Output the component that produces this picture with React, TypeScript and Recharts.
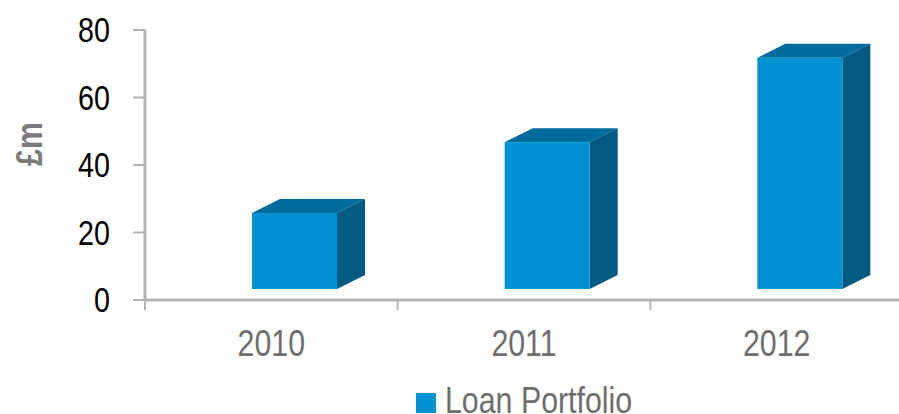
import React from 'react';
import { BarChart, Bar, XAxis, YAxis, Legend, Label } from 'recharts';

const years = ['2010', '2011', '2012'];
const loanPortfolio = [22.5, 43.5, 68.5];
const yTicks = [0, 20, 40, 60, 80];
const seriesName = 'Loan Portfolio';

// no Arial Narrow here, so squeeze Liberation Sans horizontally
const FONT = "'Liberation Sans', Arial, sans-serif";
const NARROW = 0.82;
const FRONT = '#0091d2';
const TOP = '#006c9d';
const SIDE = '#005a82';
const AXIS = '#b3b3b3';
const GREY_TEXT = '#6e6e6e';

// 3D look
const DEPTH_X = 28;
const DEPTH_Y = 14;
const SHIFT = 23;
const LIFT = 11;

const CHART_W = 1048;
const CHART_H = 414;
const MARGIN = { top: 30, right: 145, bottom: 0, left: 0 };
const Y_AXIS_W = 145;
const BAND = (CHART_W - MARGIN.left - MARGIN.right - Y_AXIS_W) / years.length;

const data = years.map((year, i) => ({ year, loan: loanPortfolio[i] }));

const NarrowText = ({ x, y, rotate = 0, children, ...rest }: any) => (
  <text transform={`translate(${x},${y}) rotate(${rotate}) scale(${NARROW},1)`} fontFamily={FONT} {...rest}>
    {children}
  </text>
);

const Bar3D = (props: any) => {
  const { x, y, width, height } = props;
  const fx = x + SHIFT;
  const top = y - LIFT;
  const bottom = y + height - LIFT;
  const r = fx + width;
  return (
    <g>
      <polygon
        points={`${fx},${top} ${fx + DEPTH_X},${top - DEPTH_Y} ${r + DEPTH_X},${top - DEPTH_Y} ${r},${top}`}
        fill={TOP}
      />
      <polygon
        points={`${r},${top} ${r + DEPTH_X},${top - DEPTH_Y} ${r + DEPTH_X},${bottom - DEPTH_Y} ${r},${bottom}`}
        fill={SIDE}
      />
      <rect x={fx} y={top} width={width} height={bottom - top} fill={FRONT} />
    </g>
  );
};

const XTick = (props: any) => {
  const { x, y, payload, index } = props;
  const axisY = y - 30;
  return (
    <g>
      <line x1={x - BAND / 2} y1={axisY} x2={x - BAND / 2} y2={axisY + 10} stroke={AXIS} strokeWidth={2} />
      {index === years.length - 1 && (
        <line x1={x + BAND / 2} y1={axisY} x2={x + BAND / 2} y2={axisY + 10} stroke={AXIS} strokeWidth={2} />
      )}
      <NarrowText x={x} y={y} dy="0.71em" textAnchor="middle" fill={GREY_TEXT} fontSize={37}>
        {payload.value}
      </NarrowText>
    </g>
  );
};

const YTick = (props: any) => {
  const { x, y, payload } = props;
  return (
    <NarrowText x={x} y={y} dy="0.355em" textAnchor="end" fill="#000" fontSize={35}>
      {payload.value}
    </NarrowText>
  );
};

const YLabel = (props: any) => {
  const vb = props.viewBox || { x: 0, y: 30, width: 145, height: 270 };
  const cx = vb.x + 29;
  const cy = vb.y + vb.height / 2 - 21;
  return (
    <NarrowText
      x={cx}
      y={cy}
      rotate={-90}
      textAnchor="middle"
      dominantBaseline="central"
      fill="#7b7b7b"
      fontSize={37}
      fontWeight="bold"
    >
      £m
    </NarrowText>
  );
};

const LegendContent = () => (
  <div style={{ height: 45, paddingLeft: Y_AXIS_W, textAlign: 'center' }}>
    <svg width={216} height={45} style={{ display: 'inline-block', overflow: 'visible' }}>
      <rect x={0} y={24} width={20} height={20} fill={FRONT} />
      <NarrowText x={29} y={44} fill={GREY_TEXT} fontSize={37}>
        {seriesName}
      </NarrowText>
    </svg>
  </div>
);

export default function App() {
  return (
    <div style={{ position: 'absolute', left: 0, top: 0, width: 899, height: 414, overflow: 'hidden', background: '#fff' }}>
      <BarChart width={CHART_W} height={CHART_H} data={data} margin={MARGIN} barSize={85}>
        <XAxis
          dataKey="year"
          height={69}
          axisLine={{ stroke: AXIS, strokeWidth: 3 }}
          tickLine={false}
          tickSize={0}
          tickMargin={30}
          tick={<XTick />}
          interval={0}
        />
        <YAxis
          width={Y_AXIS_W}
          domain={[0, 80]}
          ticks={yTicks}
          interval={0}
          axisLine={{ stroke: AXIS, strokeWidth: 3 }}
          tickLine={{ stroke: AXIS, strokeWidth: 2 }}
          tickSize={12}
          tickMargin={23}
          tick={<YTick />}
        >
          <Label content={<YLabel />} />
        </YAxis>
        <Legend verticalAlign="bottom" height={45} content={<LegendContent />} />
        <Bar dataKey="loan" name={seriesName} shape={<Bar3D />} isAnimationActive={false} />
      </BarChart>
    </div>
  );
}
